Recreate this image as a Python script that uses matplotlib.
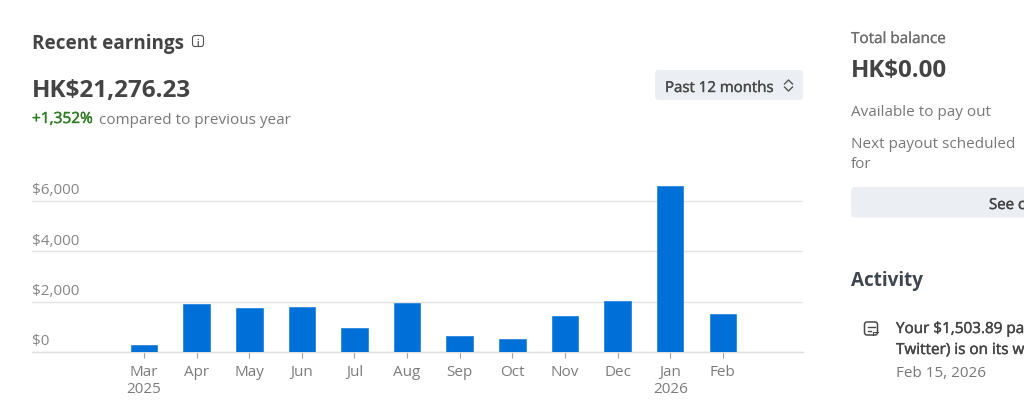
# recent earnings dashboard card
import matplotlib
matplotlib.use("Agg")
import matplotlib.pyplot as plt
import matplotlib.patheffects as pe
from matplotlib.patches import FancyBboxPatch
from matplotlib.transforms import ScaledTranslation

months = ["Mar\n2025", "Apr", "May", "Jun", "Jul", "Aug", "Sep", "Oct", "Nov", "Dec", "Jan\n2026", "Feb"]
earnings = [290, 1890, 1735, 1775, 940, 1948, 620, 515, 1445, 2040, 6610, 1504]
y_ticks = [0, 2000, 4000, 6000]
y_labels = ["$0", "$2,000", "$4,000", "$6,000"]

W, H = 1024, 410
plt.rcParams["font.family"] = ["Open Sans", "DejaVu Sans"]

GREY = "#787878"
DARK = "#444444"
BUTTON = "#ebeef2"

fig = plt.figure(figsize=(W / 100, H / 100), dpi=100)


# texto en coordenadas de pixel (y hacia abajo), baseline
def put(x, y, s, size, color=GREY, weight="normal", ha="left", stroke=0):
    t = fig.text(x / W, 1 - y / H, s, fontsize=size, color=color, fontweight=weight, ha=ha, va="baseline")
    if stroke:  # simula el peso medio de la fuente
        t.set_path_effects([pe.withStroke(linewidth=stroke, foreground=color)])


def box(x, y, w, h, color, r=4, fill=True, lw=0):
    fig.add_artist(FancyBboxPatch((x + r, H - y - h + r), w - 2 * r, h - 2 * r,
                                  boxstyle=f"round,pad={r},rounding_size={r}",
                                  transform=None, facecolor=color if fill else "none",
                                  edgecolor=color, linewidth=lw))


def polyline(xs, ys, color, lw=1.0):
    fig.add_artist(plt.Line2D([x / W for x in xs], [1 - y / H for y in ys], color=color, lw=lw))


# grafico de barras
x_left, x_right = 32, 803
y_zero, y_top = 353, 180
x_first, x_step = 144.0, 52.62
ax = fig.add_axes([x_left / W, 1 - y_zero / H, (x_right - x_left) / W, (y_zero - y_top) / H])
ax.bar(range(len(earnings)), earnings, width=0.505, color="#0070d9", edgecolor="#0070d9",
       linewidth=0.4, joinstyle="round", zorder=3)
ax.set_xlim((x_left - x_first) / x_step, (x_right - x_first) / x_step)
ax.set_ylim(0, (y_zero - y_top) / 50.35 * 2000)
for side in ["top", "right", "left"]:
    ax.spines[side].set_visible(False)
ax.spines["bottom"].set_color("#dedede")
ax.spines["bottom"].set_linewidth(1.0)
ax.grid(axis="y", color="#e3e3e3", linewidth=1.0, zorder=0)
ax.set_axisbelow(True)

ax.set_xticks(range(len(months)))
ax.set_xticklabels(months, fontsize=11, color="#7c7c7c", linespacing=1.25)
ax.tick_params(axis="x", length=4.3, width=0.8, color="#a0a0a0", pad=4)

ax.set_yticks(y_ticks)
ax.set_yticklabels(y_labels, fontsize=11, color="#868686", ha="left", va="bottom")
ax.tick_params(axis="y", length=0, pad=0)
shift = ScaledTranslation(0.2 / 72, 2.6 / 72, fig.dpi_scale_trans)
for lab in ax.get_yticklabels():
    lab.set_transform(lab.get_transform() + shift)

# encabezado
put(32, 48.5, "Recent earnings", 13.55, DARK, "bold")
box(192.5, 36.5, 11, 11, "#555555", r=2.5, fill=False, lw=0.8)
put(198, 45.5, "i", 6, "#555555", "bold", ha="center")
put(32, 97, "HK$21,276.23", 17.5, DARK, "bold")
put(32, 124, "+1,352%", 11.1, "#2f7d22", stroke=0.3)
put(99, 124, "compared to previous year", 11, GREY)

# selector de periodo
box(655, 71, 148, 30, BUTTON, r=4)
put(665, 93, "Past 12 months", 10.8, "#4a4a4a", stroke=0.3)
polyline([784.5, 788.5, 792.5], [85, 81, 85], "#555555")
polyline([784.5, 788.5, 792.5], [88, 92, 88], "#555555")

# columna derecha
put(851, 44, "Total balance", 11, "#6e6e6e", stroke=0.2)
put(851, 77, "HK$0.00", 17.4, DARK, "bold")
put(851, 116, "Available to pay out", 11, GREY)
put(851, 148, "Next payout scheduled", 11, GREY)
put(851, 168, "for", 11, GREY)
box(851, 188, 190, 30.5, BUTTON, r=4)
put(989, 210, "See c", 10.8, "#444444", stroke=0.3)

put(851, 286, "Activity", 13.6, "#3f4650", "bold")
box(864.5, 323, 13, 13, "#4a4a4a", r=2.5, fill=False, lw=1.1)
polyline([867.5, 874.5], [328, 328], "#4a4a4a", 1.0)
polyline([867.5, 871], [332, 332], "#4a4a4a", 1.0)
polyline([872.5, 872.5, 877.5], [336, 332.5, 332.5], "#4a4a4a", 0.8)
put(896, 334, "Your $1,503.89 pa", 11, "#444444", stroke=0.3)
put(896, 355, "Twitter) is on its w", 11, "#444444", stroke=0.3)
put(896, 377, "Feb 15, 2026", 11, GREY)

fig.savefig("out.png", dpi=100, facecolor="white")
